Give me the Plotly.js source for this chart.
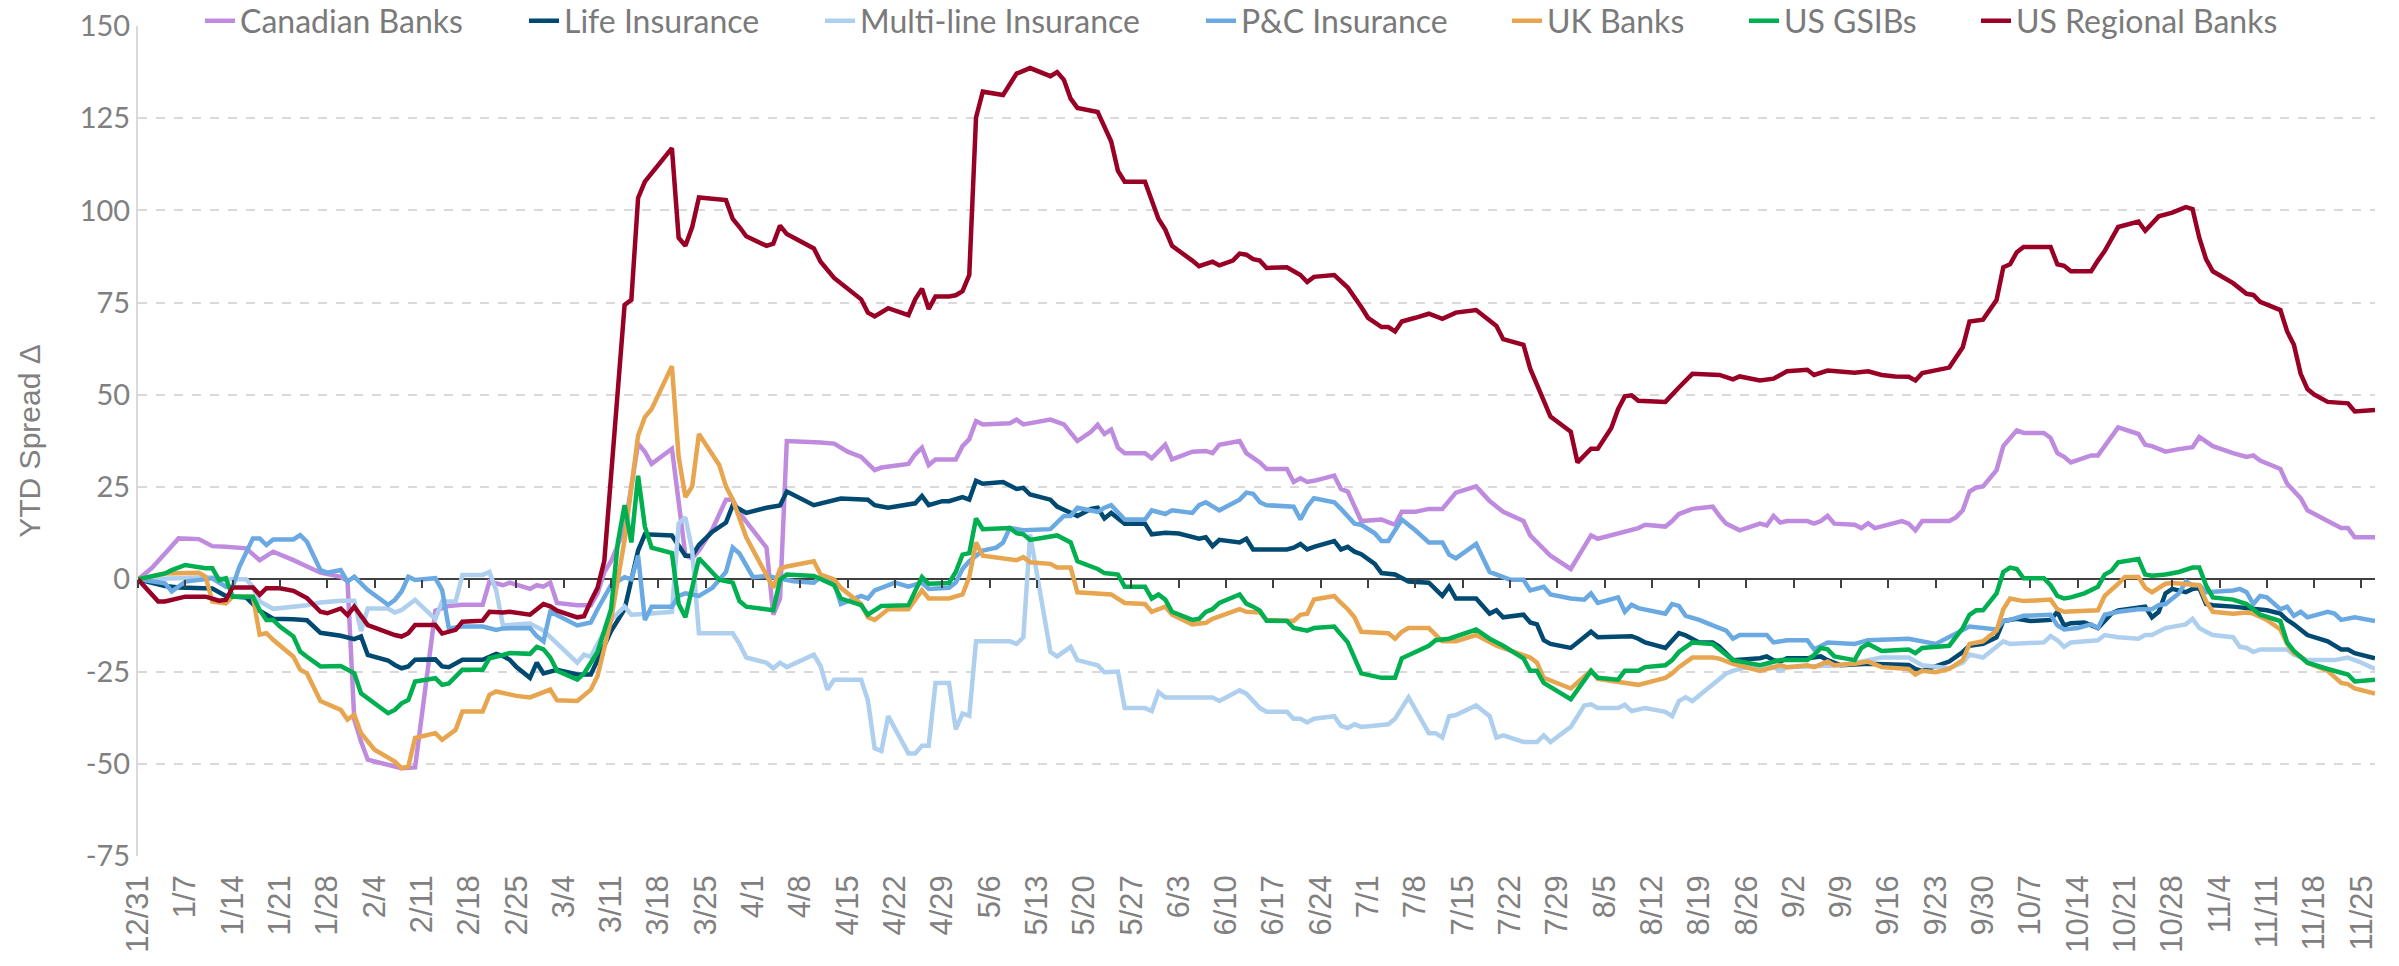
<!DOCTYPE html>
<html>
<head>
<meta charset="utf-8">
<script src="https://cdn.plot.ly/plotly-3.0.1.min.js"></script>
<style>
html,body{margin:0;padding:0;background:#ffffff;}
#chart{width:2399px;height:966px;}
</style>
</head>
<body>
<div id="chart"></div>
<script>
// ---------------- DATA (day offsets from 2022-12-31, YTD spread change) ----------------
const seriesNames = ["Canadian Banks","Life Insurance","Multi-line Insurance","P&C Insurance","UK Banks","US GSIBs","US Regional Banks"];
const lastDay = 331;
const tickStepDays = 7;

const canadianDays = [0,2,4,6,9,11,13,16,18,20,23,25,27,30,31,32,33,34,37,39,41,44,46,48,51,52,54,55,58,59,60,61,62,65,67,68,69,70,71,72,74,75,76,78,79,80,81,82,83,85,87,88,89,93,94,95,96,101,103,105,107,109,110,114,115,116,117,118,121,122,123,124,125,129,130,131,135,137,139,141,142,143,144,145,146,149,150,152,153,156,158,159,160,163,164,166,167,170,171,172,173,174,177,178,179,181,184,186,187,189,191,193,195,198,200,202,205,206,209,212,215,216,219,221,222,223,226,227,228,230,233,234,235,237,240,241,242,243,244,247,248,249,250,251,254,255,256,257,259,261,262,263,264,268,269,270,271,272,273,275,276,278,279,282,283,284,285,286,289,290,291,293,296,297,298,300,302,304,305,307,310,312,313,314,317,318,320,321,324,326,327,328,331];
const canadianVals = [0,3,7,11.1,10.9,9,8.8,8.4,5.2,7.5,5.2,3.4,1.8,0.7,-0.5,-38,-44,-48.9,-50.3,-51.2,-51,-8.5,-7.2,-6.9,-6.9,-0.6,-1.6,-0.9,-2.6,-1.6,-2,-0.9,-6.4,-7,-7,-3.8,2,4.9,9.3,13.6,36.8,34.6,31.3,33.9,35.4,21,6.4,5.7,7.8,13.6,21.6,21.6,18,8.6,-9.6,-5.2,37.5,37.1,36.8,34.6,33.2,29.6,30.3,31.3,33.9,35.7,31,32.5,32.5,36.1,38,42.9,42,42.3,43.3,42,43.3,42,37.5,40,41.9,39.4,40.6,35.7,34.2,34.2,32.8,36.5,32.5,34.6,34.8,34.2,36.5,37.5,34.2,31.7,29.9,29.9,26.4,27.4,26.4,26.7,28.1,24.5,23.8,15.8,16.2,14.8,18.3,18.3,19.1,19.1,23.5,25.2,21.2,18.3,15.8,11.9,6.4,2.8,11.9,11,12.5,13.6,13.9,14.8,14.3,15.8,17.7,19.1,19.7,17.2,15.1,13.3,15.1,14.6,17.2,15.4,15.8,15.8,15.1,15.8,17.2,15.1,14.8,13.9,15.2,13.9,14.8,15.8,15.1,13.3,15.8,15.8,16.8,18.7,23.8,24.9,25.2,29.6,36.1,40.4,39.7,39.7,38.3,34.2,33.2,31.7,33.6,33.6,36.1,41.2,39.4,36.5,36.1,34.6,35.3,35.8,38.6,36.1,34.2,33.2,33.6,32.2,29.9,25.9,22,18.7,15.8,13.9,13.9,11.4,11.4];

const lifeDays = [0,2,4,6,9,11,13,16,18,20,23,25,27,30,32,33,34,37,38,39,40,41,44,45,46,48,51,53,54,55,56,58,59,60,62,65,67,68,70,72,74,75,79,81,82,83,85,87,88,90,93,95,96,100,104,108,109,111,115,116,117,119,120,122,123,124,125,128,130,131,132,135,136,139,141,142,143,144,146,149,150,152,154,157,158,159,160,163,164,165,170,171,172,173,174,177,178,179,180,181,183,184,186,188,191,193,194,195,198,200,201,202,205,206,207,208,209,212,214,215,216,219,221,222,223,226,228,229,231,233,234,236,240,241,242,243,244,247,249,250,252,256,262,263,264,268,270,271,273,275,276,278,280,283,284,285,286,288,290,292,293,297,298,299,300,301,303,304,305,306,307,310,312,315,317,318,319,321,324,326,327,328,331];
const lifeVals = [0,-1,-1.8,-2.2,-2.2,-2.5,-4.5,-4.9,-8.5,-10.7,-10.8,-11.1,-14.5,-15.3,-16.2,-15.5,-20.5,-22,-23.2,-24.1,-23.6,-21.8,-21.7,-23.6,-23.8,-21.8,-21.8,-20.2,-20.8,-21.8,-23.8,-26.7,-22.6,-25.5,-24.5,-25.8,-25.8,-22,-14,-8.1,7.8,12.2,11.9,6.4,6.4,9.3,12.9,15.4,20.1,18,19.4,20,23.8,20.1,21.9,21.6,20.1,19.4,20.6,22.6,20.1,21.2,21.2,22.3,21.6,26.7,25.9,26.4,24.5,24.8,23,21.6,19.7,17.2,19.1,19.4,16.5,18,15.1,15.1,12.2,12.6,12.4,11,11.4,9,10.7,10,11,8.1,8.1,8.6,9.6,8.1,8.8,10.4,8.1,8.8,7.5,6.8,4.2,1.7,1.3,-0.6,-0.9,-4.5,-2,-5.2,-5.2,-9.3,-8.4,-10.3,-9.6,-11.7,-12.2,-16.5,-17.5,-18.6,-15.7,-14.2,-15.7,-15.7,-15.4,-16.1,-17.1,-18.6,-14.6,-15.2,-17.1,-17.1,-18.3,-21.9,-21.4,-20.9,-21.9,-22.3,-21.4,-21.4,-20.9,-21.9,-23.3,-22.9,-23.2,-24.3,-24.8,-22.3,-19.7,-18,-17.5,-15.7,-11.3,-10.7,-11.3,-11,-8.8,-12.5,-11.9,-11.7,-13.2,-9.3,-8.4,-7.4,-10.3,-8.8,-3.8,-2.6,-3.5,-2.6,-2.3,-6.7,-7,-7.4,-7.8,-8.4,-9.3,-11,-12.2,-15.1,-16.8,-19,-19,-20,-21.4];

const multiDays = [0,2,4,6,9,11,13,16,17,18,20,23,25,27,30,32,33,34,37,38,39,41,44,45,47,48,51,52,53,54,58,60,62,65,66,67,68,70,72,73,75,79,80,81,82,83,88,89,90,93,94,95,96,100,101,102,103,107,108,109,110,111,114,115,116,117,118,120,121,122,123,124,129,130,131,132,135,136,138,139,142,143,145,146,149,150,151,152,159,160,163,164,166,167,170,171,172,173,174,177,178,179,180,181,185,186,188,191,192,193,194,195,198,200,201,202,205,207,208,209,212,214,215,216,219,220,221,223,226,227,228,229,230,232,234,235,236,238,242,243,244,252,256,258,262,264,268,270,271,273,275,276,277,282,283,284,285,286,290,291,293,296,297,298,300,303,304,305,306,307,310,311,312,313,314,318,319,321,325,327,329,331];
const multiVals = [0,0,0,0.3,0.5,0.5,0,0,-2,-6,-8,-7.5,-7,-6.3,-5.8,-5.8,-14,-7.9,-7.9,-9,-8.3,-5.6,-10.8,-6,-6,1.2,1.2,2,-3,-12.5,-12,-13.9,-17.5,-22.6,-20.4,-21,-17.5,-11,-7.4,-9.6,-9.4,-8.8,15.1,16.8,7.8,-14.6,-14.6,-17.5,-21.2,-22.6,-24.1,-22.6,-23.8,-20.4,-23.5,-29.9,-27.2,-27.2,-32.8,-45.8,-46.5,-37.1,-47.2,-47.2,-45.1,-45.1,-28.1,-28.1,-40.7,-36.4,-37,-16.8,-16.8,-17.5,-15.7,12.2,-19.7,-20.9,-18.3,-21.9,-23.3,-25.2,-25,-34.9,-34.9,-35.7,-30.6,-32,-32,-33,-30.1,-31,-34.9,-35.9,-35.9,-37.8,-37.8,-38.8,-37.8,-37.1,-39.7,-40.3,-39.3,-40,-39.3,-37.8,-32,-41.7,-41.7,-42.9,-37.1,-36.8,-34.2,-37.1,-42.9,-42.3,-44.1,-44.1,-42.3,-44.1,-40,-34.2,-33.9,-34.9,-34.9,-34,-35.7,-34.9,-35.9,-37.1,-33,-32,-33,-29.9,-27,-25.5,-24.8,-23.8,-23.8,-24.8,-23.8,-23.3,-21.9,-21.2,-21.2,-23.3,-24.1,-22.6,-20.4,-21.2,-18.3,-16.8,-17.5,-17.1,-15.4,-16.5,-18.3,-17.1,-16.5,-15.1,-15.7,-16.1,-15.1,-15.1,-13.2,-12.2,-10.7,-13.2,-14.2,-15.1,-15.7,-18.3,-18.6,-19.7,-19,-19,-20.4,-21.9,-21.9,-21.2,-22.6,-24.3];

const pcDays = [0,4,5,7,11,13,14,15,17,18,19,20,23,24,25,27,28,30,31,32,34,37,38,39,40,41,44,45,46,48,51,53,54,58,59,60,61,65,67,68,70,72,73,74,75,76,79,80,81,83,85,87,88,89,91,93,97,100,101,103,104,105,107,108,109,110,112,114,116,117,120,121,122,123,125,127,128,129,131,135,137,138,139,142,143,144,146,149,150,152,153,156,157,158,160,163,164,165,166,167,171,172,173,174,177,178,180,181,183,184,185,187,189,191,193,194,195,198,200,203,205,206,208,209,212,214,215,216,219,220,221,222,226,227,228,229,231,233,235,236,237,241,242,244,247,248,250,254,256,262,266,271,275,276,277,279,283,284,285,287,289,290,291,293,296,298,299,300,302,303,304,305,306,310,311,312,313,314,315,317,318,319,320,321,324,325,326,328,331];
const pcVals = [0,-1.1,-3.3,-0.6,0.3,-2,-2,3.4,11.1,11.1,9.3,10.8,10.8,12,10.2,2.5,1.8,2.5,-0.6,0.7,-2.9,-6.9,-5.6,-3.3,0.7,-0.2,0.3,-2.9,-13.3,-12.8,-12.8,-13.7,-13.3,-13.2,-15.4,-16.8,-8.8,-12.5,-11.7,-8.1,-1.6,0.6,0,6.4,-11,-7.4,-7.4,-4.5,-3.8,-4.5,-2.3,2,8.6,7,0.6,0.9,-0.5,-0.9,0.6,-0.9,-6.7,-6,-4.5,-5.2,-3,-2.3,-0.9,-2,-0.9,-2.6,-2.3,-0.9,2.8,4.9,7.8,8.6,10,13.9,13.3,13.6,17.2,17.2,19.4,18.3,19.4,20.1,16.2,16.2,18.7,17.7,18.7,18,20.1,20.9,18.7,21.6,23.5,23.2,20.9,20.1,19.7,16.2,19.7,22,20.9,19.1,15.1,14.8,12.5,10.4,10.4,16.2,13.3,10,10,6.7,5.7,9.6,2,-0.1,-0.1,-3,-2,-4.1,-5.2,-5.5,-3.8,-6.4,-4.9,-8.8,-6.9,-7.8,-9.3,-6.7,-7.2,-9.9,-11,-12.5,-13.9,-16.1,-15.1,-15.1,-17.1,-16.5,-16.5,-19,-17.1,-17.5,-16.5,-16.1,-17.5,-12.8,-13.6,-11.3,-11,-9.9,-9.6,-12.5,-13.6,-13.2,-12.2,-13.2,-9.6,-8.8,-8.1,-8.1,-7,-6.7,-3.8,-0.6,-1.6,-1.6,-3.5,-3,-2.6,-3.5,-6.7,-4.5,-4.9,-8.1,-7.4,-9.9,-8.8,-10.3,-8.8,-9.3,-11,-10.3,-11.3];

const ukDays = [0,4,9,10,11,13,14,17,18,19,20,23,24,25,27,30,31,32,33,35,38,39,40,41,44,45,47,48,51,52,53,56,58,60,61,62,65,67,68,70,72,74,75,76,79,80,81,82,83,86,87,88,90,94,95,96,100,101,103,104,107,108,109,111,114,116,117,120,122,123,124,125,128,130,131,132,135,136,138,139,144,146,149,150,152,153,156,158,159,163,164,166,167,171,172,173,174,177,178,179,180,181,185,186,187,188,191,192,193,195,198,201,206,207,208,212,215,216,219,222,226,227,228,230,233,234,236,240,243,244,247,248,250,251,254,256,258,262,263,264,266,268,270,271,273,275,276,277,279,283,284,285,290,291,293,294,296,297,298,300,301,303,305,306,307,310,312,313,315,317,318,319,320,321,324,326,327,328,331];
const ukVals = [0,1.6,1.8,0.7,-6,-6.5,-4.7,-4.7,-15,-14.6,-16.4,-21,-24.5,-25.5,-33,-35.4,-38,-36.7,-41.7,-46.2,-49.4,-51.2,-50.7,-43,-41.7,-43.5,-40.8,-35.8,-35.8,-31.3,-30.4,-31.6,-32,-30.6,-29.9,-32.8,-33,-29.9,-26.2,-11,10.7,39,44,46.2,57.8,33.2,22.3,25.2,39.4,31,25.2,21.6,11.4,-2.3,2.8,3.5,4.9,1.3,0,-2.3,-6.7,-10.3,-11,-8.1,-8.1,-3,-5.2,-5.2,-4.1,0.6,10,6.4,5.7,5.2,6,4.6,4.2,3.2,3.2,-3.5,-4.1,-6.4,-6.7,-8.8,-7.4,-9.6,-12.2,-11.8,-10.7,-8.1,-8.8,-9,-11,-11.3,-9.6,-9.3,-5.5,-4.5,-6.4,-8.1,-10.3,-14.2,-14.6,-16.1,-14.2,-13.2,-13.2,-15.1,-16.8,-16.8,-15.1,-18,-21.2,-22.6,-26.7,-29.6,-24.8,-27,-27.7,-28.6,-26.7,-25.5,-23.8,-21.2,-21.2,-21.5,-22.9,-24.8,-23.3,-23.8,-23.3,-23.8,-22.3,-23.3,-22.9,-22.3,-23.8,-24.3,-25.8,-24.8,-25.2,-24.3,-21.9,-17.5,-16.8,-13.9,-8.1,-5.2,-5.9,-5.5,-8.1,-8.8,-8.4,-4.5,-1.2,0.6,0.6,-2.3,-3.5,-1.2,-1,-1.2,-1.6,-5.9,-8.8,-9.3,-9,-9.3,-11,-13.6,-17.5,-20,-20.9,-22.6,-24.8,-28.1,-28.4,-29.6,-31];

const gsibDays = [0,4,5,7,10,11,12,13,14,17,18,19,20,21,23,24,25,27,30,32,33,37,38,39,40,41,44,45,46,48,51,52,54,55,58,59,60,61,62,65,66,67,68,70,71,72,73,74,75,76,79,80,81,83,86,88,89,90,94,95,96,100,103,104,107,108,110,114,116,117,120,121,122,123,124,125,129,130,131,132,136,138,139,142,143,145,146,149,150,151,152,153,156,157,158,159,160,163,164,165,166,167,170,171,173,174,177,179,181,184,186,187,189,191,192,194,198,200,202,205,206,207,208,212,215,216,219,220,222,223,226,227,228,230,233,234,236,240,243,247,248,249,250,251,254,255,256,258,262,263,264,268,270,271,272,273,275,276,277,278,279,282,283,284,285,286,288,290,291,292,293,296,297,298,300,302,304,305,306,307,310,312,314,317,318,319,320,321,324,326,327,328,331];
const gsibVals = [0,1.6,2.5,3.9,3,3,-0.2,0.3,-4.7,-4.7,-8.3,-11,-11,-12.8,-15.5,-19.6,-21,-23.6,-23.5,-25.5,-30.9,-36.3,-35.4,-33.6,-32.7,-27.7,-26.8,-28.6,-28.2,-24.5,-24.5,-21.4,-20.5,-20,-20.2,-18.3,-19,-21.2,-24.8,-27.2,-25.5,-22.6,-19.7,-8.1,10,20.1,10,28.1,14.3,8.6,7.1,-6.7,-10.3,5.7,-0.1,-0.9,-5.9,-7.4,-8.4,-0.1,1.3,0.9,-1.6,-5.2,-7,-9.6,-7.2,-7,0.6,-1.2,-1,2,6.7,7.1,16.5,13.6,13.9,12.5,12.2,10.7,11.9,10,4.9,2.8,1.7,1.3,-2,-2,-5.2,-4.1,-5.5,-8.8,-11,-10.7,-8.8,-8.1,-6.4,-4.1,-6.6,-7.4,-8.5,-11.2,-11.3,-13.2,-13.9,-13.2,-12.8,-17.1,-25.5,-26.7,-26.7,-21.4,-19.7,-18,-16.5,-16.1,-13.6,-16.1,-18,-21.4,-24.8,-24.8,-28.1,-32.5,-24.8,-26.7,-27.2,-24.8,-24.8,-23.8,-23.3,-21.9,-19.7,-17.1,-17.5,-18.9,-21.9,-23.3,-21.9,-21.9,-20.5,-18.6,-19,-20.9,-21.9,-18.6,-17.5,-19.4,-19,-20,-18.6,-18,-13.2,-9.6,-8.4,-8.4,-3.8,2,3.2,2.8,0.3,0.3,-1.6,-4.5,-5.2,-4.9,-3.8,-2,1.3,2.3,4.6,5.5,1.3,1,1.3,2,3.2,3.2,-1.6,-4.9,-5.5,-6.7,-9.6,-11.3,-17.1,-19.4,-20.9,-22.6,-24.3,-25.5,-25.8,-27.7,-27.2];

const regionalDays = [0,3,4,7,10,12,13,14,17,18,19,21,23,25,27,28,30,31,32,34,38,39,40,41,44,45,47,48,51,52,54,55,58,59,60,61,62,65,66,67,68,69,72,73,74,75,76,79,80,81,82,83,87,88,89,90,93,94,95,96,100,101,103,107,108,109,111,114,115,116,117,118,120,121,122,123,124,125,128,130,132,135,136,137,138,139,142,144,145,146,149,151,152,153,156,157,159,160,162,163,164,165,166,167,170,171,172,173,174,177,179,181,182,184,185,186,187,189,191,193,195,198,201,202,205,206,208,209,212,213,215,216,218,219,220,221,222,223,226,228,229,230,234,236,237,240,242,244,247,248,250,252,254,256,258,260,262,263,264,268,270,271,273,275,276,277,278,279,283,284,285,286,289,290,291,293,296,297,298,299,301,303,304,305,306,307,310,312,313,314,317,318,319,320,321,322,324,326,327,328,331];
const regionalVals = [0,-6,-6,-4.7,-4.7,-5.8,-5.6,-2.2,-2.2,-4.2,-2.4,-2.4,-3.1,-5.1,-8.8,-9.2,-7.9,-9.7,-7.4,-12.4,-15.1,-15.5,-14.6,-12.4,-12.4,-14.7,-13.7,-11.5,-11.2,-8.8,-9,-8.8,-9.6,-8,-6.7,-7.3,-8.5,-10.3,-10,-5.9,-2.3,5,74.4,75.8,103.4,107.8,110,116.9,92.6,90.4,95.5,103.5,102.8,97.7,95.5,93,90.4,91,95.9,93.6,89.7,86.1,81.7,75.9,72.3,71.3,73.5,71.6,75.9,78.8,73.3,76.7,76.7,77,78.1,82.5,125.2,132.2,131.3,137.1,138.6,136.4,137.5,135.4,130.3,127.8,126.7,118.7,110.7,107.8,107.8,97.7,94.8,90.4,86.4,84.9,86.1,85.1,86.4,88.3,88,86.8,86.4,84.4,84.6,83.5,82.5,80.6,82,82.5,79.1,73.8,70.9,68.4,68.4,67.2,69.9,70.9,72,70.6,72.3,73,68.7,65.1,63.6,57.1,48.4,44.1,40,31.7,35.4,35.4,41,46.1,49.6,49.9,48.4,48.4,48.1,52,53.9,55.7,55.4,54.2,55,53.9,54.4,56.4,56.8,55.4,56.6,56.4,56,56.4,55.4,55,54.9,53.9,55.9,57.4,62.9,69.9,70.4,75.7,84.6,85.4,88.7,90.1,90.1,85.4,85,83.5,83.5,86.4,89,95.5,97,94.5,96.5,98.4,99.4,100.9,100.4,92.6,86.8,83.5,80.3,77.4,77.1,75.2,73,67.2,63.6,55.7,51.6,50.1,48.1,47.7,47.7,45.5,45.9];

const yTickVals = [-75,-50,-25,0,25,50,75,100,125,150];
const yTickLabels = ["-75","-50","-25","0","25","50","75","100","125","150"];

// ---------------- STYLE / LAYOUT ----------------
const colors = ["#BF8BDF","#004A72","#AECFEE","#6AA9E2","#E8A54F","#00B050","#990025"];
const seriesDays = [canadianDays,lifeDays,multiDays,pcDays,ukDays,gsibDays,regionalDays];
const seriesVals = [canadianVals,lifeVals,multiVals,pcVals,ukVals,gsibVals,regionalVals];

const baseMs = Date.UTC(2022,11,31);
function toDate(d){ return new Date(baseMs + d*86400000).toISOString().slice(0,10); }

const plotLeft = 138, plotRight = 2375, plotTop = 26, plotBottom = 856;
const plotW = plotRight - plotLeft;
const legendTextStart = [240,564,860,1241,1547,1784,2016];
const legendEnd = 2309;

const traces = seriesNames.map((name,i)=>({
  type:'scatter', mode:'lines', name:name,
  x: seriesDays[i].map(toDate), y: seriesVals[i],
  line:{color:colors[i], width:4.5},
  legend: i===0 ? 'legend' : 'legend'+(i+1),
  hoverinfo:'skip'
}));
traces.push({type:'scatter', mode:'lines', x:[toDate(0)], y:[null], xaxis:'x2', yaxis:'y', showlegend:false, hoverinfo:'skip'});

const xRange = [toDate(0), toDate(lastDay)];
const layout = {
  width:2399, height:966,
  margin:{l:plotLeft, r:2399-plotRight, t:plotTop, b:966-plotBottom, autoexpand:false},
  paper_bgcolor:'#ffffff', plot_bgcolor:'#ffffff',
  hovermode:false,
  xaxis:{type:'date', range:xRange, tick0:toDate(0), dtick:tickStepDays*86400000, tickformat:'%-m/%-d',
    tickangle:-90, ticks:'', showgrid:false, zeroline:false, showline:false, automargin:false,
    ticklabelstandoff:12,
    tickfont:{family:'Liberation Sans, Arial, sans-serif', size:31, color:'#808080'}},
  xaxis2:{type:'date', range:xRange, tick0:toDate(0), dtick:tickStepDays*86400000, overlaying:'x',
    anchor:'free', position:75/225, side:'bottom', ticks:'outside', ticklen:8, tickwidth:2, tickcolor:'#404040',
    showticklabels:false, showgrid:false, zeroline:false, showline:false, automargin:false},
  yaxis:{range:[-75,150], tickvals:yTickVals, ticktext:yTickLabels, ticks:'', showgrid:true, gridcolor:'#D9D9D9', gridwidth:2, griddash:'dash',
    zeroline:true, zerolinecolor:'#404040', zerolinewidth:2, showline:true, linecolor:'#D9D9D9', linewidth:2,
    automargin:false, tickfont:{family:'Lato, sans-serif', size:29, color:'#808080'},
    title:{text:'YTD Spread Δ', standoff:30, font:{family:'Liberation Sans, Arial, sans-serif', size:30, color:'#808080'}}}
};
seriesNames.forEach((n,i)=>{
  const key = i===0 ? 'legend' : 'legend'+(i+1);
  const left = legendTextStart[i] - 40;
  const nextLeft = i < seriesNames.length-1 ? legendTextStart[i+1] - 40 : legendEnd;
  layout[key] = {
    orientation:'h', x:(left - plotLeft)/plotW, xanchor:'left', y:1 + 5/(plotBottom-plotTop), yanchor:'middle',
    bgcolor:'#ffffff', borderwidth:0, entrywidthmode:'pixels', entrywidth: nextLeft - left - 40,
    font:{family:'Lato, sans-serif', size:32, color:'#7A7A7A'}
  };
});

Plotly.newPlot('chart', traces, layout, {staticPlot:true, displayModeBar:false});
</script>
</body>
</html>
